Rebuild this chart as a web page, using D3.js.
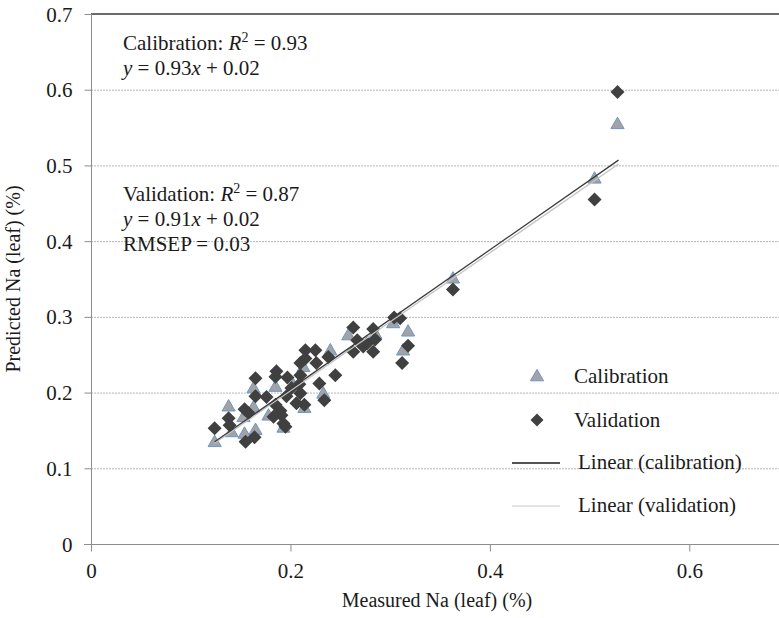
<!DOCTYPE html>
<html>
<head>
<meta charset="utf-8">
<script src="https://cdn.jsdelivr.net/npm/d3@7"></script>
<style>
  html, body { margin: 0; padding: 0; background: #fff; }
  svg text { font-family: "Liberation Serif", "Times New Roman", Tinos, "DejaVu Serif", "Noto Serif", FreeSerif, Times, serif; }
</style>
</head>
<body>
<svg id="chart" width="779" height="618"></svg>
<script>
// ---- data ----
const calX = [0.138, 0.124, 0.154, 0.165, 0.185, 0.178, 0.193, 0.214, 0.163, 0.203,
              0.318, 0.313, 0.303, 0.258, 0.285, 0.240, 0.233, 0.213, 0.163, 0.153,
              0.141, 0.363, 0.528, 0.505];
const calY = [0.182, 0.135, 0.146, 0.151, 0.208, 0.170, 0.154, 0.180, 0.206, 0.210,
              0.281, 0.256, 0.292, 0.276, 0.278, 0.256, 0.199, 0.234, 0.181, 0.168,
              0.148, 0.351, 0.555, 0.483];
const valX = [0.124, 0.138, 0.139, 0.154, 0.155, 0.164, 0.165, 0.165, 0.186, 0.176,
              0.190, 0.193, 0.197, 0.209, 0.215, 0.225, 0.214, 0.234, 0.263, 0.283,
              0.304, 0.310, 0.318, 0.312, 0.267, 0.273, 0.263, 0.283, 0.277, 0.285,
              0.215, 0.226, 0.238, 0.245, 0.229, 0.210, 0.210, 0.185, 0.210, 0.201,
              0.196, 0.185, 0.191, 0.195, 0.206, 0.158, 0.183, 0.363, 0.528, 0.505];
const valY = [0.153, 0.166, 0.157, 0.178, 0.135, 0.141, 0.219, 0.195, 0.228, 0.194,
              0.176, 0.159, 0.220, 0.211, 0.256, 0.256, 0.184, 0.190, 0.286, 0.284,
              0.299, 0.298, 0.262, 0.239, 0.269, 0.261, 0.254, 0.254, 0.265, 0.270,
              0.245, 0.239, 0.247, 0.223, 0.212, 0.239, 0.223, 0.221, 0.199, 0.206,
              0.195, 0.184, 0.170, 0.155, 0.186, 0.173, 0.168, 0.336, 0.597, 0.455];
// trendline end points
const fitCalX = [0.124, 0.529];
const fitCalY = [0.135, 0.507];
const fitValX = [0.124, 0.529];
const fitValY = [0.133, 0.502];
const xTicks = [0, 0.2, 0.4, 0.6];
const yTicks = [0, 0.1, 0.2, 0.3, 0.4, 0.5, 0.6, 0.7];
const legendLabels = ["Calibration", "Validation", "Linear (calibration)", "Linear (validation)"];

// ---- layout ----
const FONT = '"Liberation Serif", "Times New Roman", Tinos, "DejaVu Serif", "Noto Serif", FreeSerif, Times, serif';
const svg = d3.select("#chart");
const W = 779, H = 618;
const mLeft = 91, mTop = 14, mBottom = 544;
const xs = d3.scaleLinear().domain([0, 0.7]).range([mLeft, mLeft + 698]);
const ys = d3.scaleLinear().domain([0, 0.7]).range([mBottom, mTop]);
const fmt = d => d === 0 ? "0" : d.toFixed(1);
const textColor = "#1a1a1a";
const axisColor = "#8c8c8c";

// gridlines
svg.append("g").selectAll("line")
  .data(yTicks.filter(d => d > 0 && d < 0.7))
  .join("line")
  .attr("x1", xs(0)).attr("x2", W)
  .attr("y1", d => ys(d) + 0.5).attr("y2", d => ys(d) + 0.5)
  .attr("stroke", "#b5b5b5").attr("stroke-width", 1)
  .attr("stroke-dasharray", "2,1");

// top border
svg.append("line")
  .attr("x1", xs(0)).attr("x2", W)
  .attr("y1", ys(0.7)).attr("y2", ys(0.7))
  .attr("stroke", "#3a3a3a").attr("stroke-width", 1.6);

// y axis
const yAxis = svg.append("g")
  .attr("transform", `translate(${xs(0) + 0.5},0)`)
  .call(d3.axisLeft(ys).tickValues(yTicks).tickFormat(fmt).tickSize(7).tickPadding(12));
yAxis.attr("font-family", FONT).attr("font-size", 21);
yAxis.select(".domain").remove();
yAxis.append("line").attr("y1", mTop).attr("y2", mBottom + 7).attr("stroke", axisColor);
yAxis.selectAll(".tick line").attr("stroke", axisColor);
yAxis.selectAll(".tick text").attr("fill", textColor).attr("dy", "0.34em");

// x axis
const xAxis = svg.append("g")
  .attr("transform", `translate(0,${mBottom + 0.5})`)
  .call(d3.axisBottom(xs).tickValues(xTicks).tickFormat(fmt).tickSize(7).tickPadding(12));
xAxis.attr("font-family", FONT).attr("font-size", 21);
xAxis.select(".domain").remove();
xAxis.append("line").attr("x1", xs(0) - 7).attr("x2", W).attr("stroke", axisColor);
xAxis.selectAll(".tick line").attr("stroke", axisColor);
xAxis.selectAll(".tick text").attr("fill", textColor);

// axis titles
svg.append("text")
  .attr("x", 437).attr("y", 607)
  .attr("text-anchor", "middle").attr("fill", textColor)
  .attr("font-family", FONT).attr("font-size", 20)
  .text("Measured Na (leaf) (%)");
svg.append("text")
  .attr("transform", `translate(20,${(mTop + mBottom) / 2}) rotate(-90)`)
  .attr("text-anchor", "middle").attr("fill", textColor)
  .attr("font-family", FONT).attr("font-size", 20)
  .text("Predicted Na (leaf) (%)");

// markers
const tri = d3.symbol().type(d3.symbolTriangle).size(75);
const dia = (cx, cy, r) => `M${cx},${cy - r}L${cx + r},${cy}L${cx},${cy + r}L${cx - r},${cy}Z`;

svg.append("g").selectAll("path")
  .data(calX.map((x, i) => [x, calY[i]]))
  .join("path")
  .attr("d", tri)
  .attr("transform", d => `translate(${xs(d[0])},${ys(d[1]) + 1})`)
  .attr("fill", "#a3a3a3").attr("stroke", "#6d95cf").attr("stroke-width", 1);

svg.append("g").selectAll("path")
  .data(valX.map((x, i) => [x, valY[i]]))
  .join("path")
  .attr("d", d => dia(xs(d[0]), ys(d[1]), 7))
  .attr("fill", "#404040");

// trendlines
svg.append("line")
  .attr("x1", xs(fitValX[0])).attr("y1", ys(fitValY[0]))
  .attr("x2", xs(fitValX[1])).attr("y2", ys(fitValY[1]))
  .attr("stroke", "#c4c4c4").attr("stroke-width", 1.3);
svg.append("line")
  .attr("x1", xs(fitCalX[0])).attr("y1", ys(fitCalY[0]))
  .attr("x2", xs(fitCalX[1])).attr("y2", ys(fitCalY[1]))
  .attr("stroke", "#3c3c3c").attr("stroke-width", 1.3);

// annotations
function eqLine(x, y, parts) {
  const t = svg.append("text").attr("x", x).attr("y", y).attr("fill", textColor)
    .attr("font-family", FONT).attr("font-size", 21);
  parts.forEach(p => {
    const s = t.append("tspan").text(p.t);
    if (p.i) s.attr("font-style", "italic");
    if (p.sup) s.attr("dy", -8).attr("font-size", 14);
    if (p.down) s.attr("dy", 8);
  });
}
eqLine(123, 50, [{t: "Calibration: "}, {t: "R", i: true}, {t: "2", sup: true}, {t: " = 0.93", down: true}]);
eqLine(123, 75, [{t: "y", i: true}, {t: " = 0.93"}, {t: "x", i: true}, {t: " + 0.02"}]);
eqLine(123, 201, [{t: "Validation: "}, {t: "R", i: true}, {t: "2", sup: true}, {t: " = 0.87", down: true}]);
eqLine(123, 226, [{t: "y", i: true}, {t: " = 0.91"}, {t: "x", i: true}, {t: " + 0.02"}]);
eqLine(123, 251, [{t: "RMSEP = 0.03"}]);

// legend
const lg = svg.append("g");
lg.append("path").attr("d", tri).attr("transform", "translate(537,377)")
  .attr("fill", "#a3a3a3").attr("stroke", "#6d95cf").attr("stroke-width", 1);
lg.append("path").attr("d", dia(537, 420, 6.5)).attr("fill", "#404040");
lg.append("line").attr("x1", 512).attr("x2", 560).attr("y1", 463).attr("y2", 463)
  .attr("stroke", "#555").attr("stroke-width", 2);
lg.append("line").attr("x1", 512).attr("x2", 560).attr("y1", 506).attr("y2", 506)
  .attr("stroke", "#c8c8c8").attr("stroke-width", 1);
const lgPos = [[574, 383], [574, 427], [578, 469], [578, 512]];
lg.selectAll("text").data(legendLabels).join("text")
  .attr("x", (d, i) => lgPos[i][0]).attr("y", (d, i) => lgPos[i][1])
  .attr("fill", textColor).attr("font-family", FONT).attr("font-size", 21)
  .text(d => d);
</script>
</body>
</html>
